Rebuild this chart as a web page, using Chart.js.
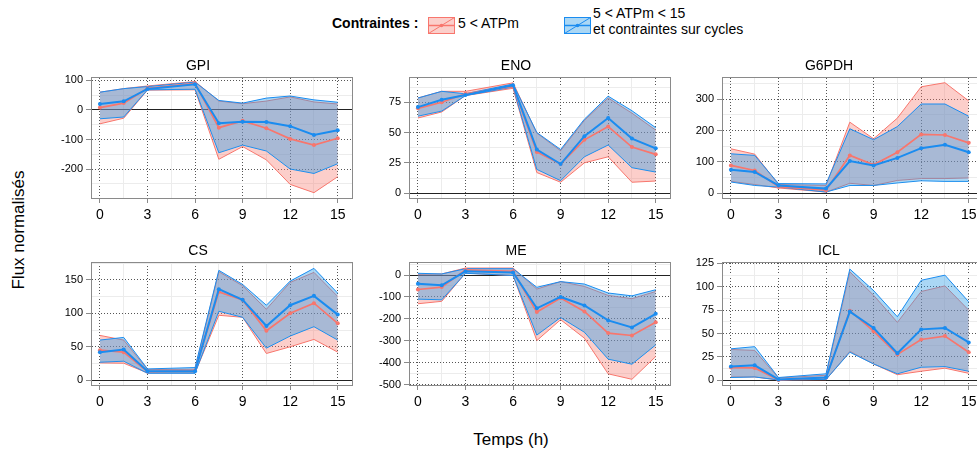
<!DOCTYPE html>
<html>
<head>
<meta charset="utf-8">
<script src="https://cdn.jsdelivr.net/npm/chart.js@4.4.1/dist/chart.umd.min.js"></script>
<style>
  body { margin: 0; width: 977px; height: 459px; overflow: hidden; background: #fff; position: relative;
         font-family: "Liberation Sans", Arial, sans-serif; color: #000; }
  canvas.panel { position: absolute; }
  .lab { position: absolute; white-space: nowrap; font-size: 14px; line-height: 16px; }
  .swatch { position: absolute; }
  #ylab { position: absolute; left: 19px; top: 230px; font-size: 17px; white-space: nowrap;
          transform: translate(-50%, -50%) rotate(-90deg); }
  #xlab { position: absolute; left: 511px; top: 440px; font-size: 17px; white-space: nowrap;
          transform: translate(-50%, -50%); }
</style>
</head>
<body>

<div class="lab" style="left:332px; top:15px; font-weight:bold;">Contraintes :</div>
<svg class="swatch" style="left:428px; top:17px;" width="27" height="17">
  <rect x="0.5" y="0.5" width="26" height="16" fill="#fbcfcb" stroke="#f8766d"/>
  <line x1="0.5" y1="16.5" x2="26.5" y2="0.5" stroke="#f8766d"/>
  <line x1="0" y1="8.5" x2="27" y2="8.5" stroke="#f8766d" stroke-width="1.5"/>
  <circle cx="13.5" cy="8.5" r="1.8" fill="#f8766d"/>
</svg>
<div class="lab" style="left:458px; top:15px;">5 &lt; ATPm</div>
<svg class="swatch" style="left:564px; top:17px;" width="27" height="17">
  <rect x="0.5" y="0.5" width="26" height="16" fill="#aad7f5" stroke="#1a8cf0"/>
  <line x1="0.5" y1="16.5" x2="26.5" y2="0.5" stroke="#1a8cf0"/>
  <line x1="0" y1="8.5" x2="27" y2="8.5" stroke="#1a8cf0" stroke-width="1.5"/>
  <circle cx="13.5" cy="8.5" r="1.8" fill="#1a8cf0"/>
</svg>
<div class="lab" style="left:593px; top:6px; line-height:15.5px;">5 &lt; ATPm &lt; 15<br>et contraintes sur cycles</div>

<div id="ylab">Flux normalisés</div>
<div id="xlab">Temps (h)</div>

<script>
// sampling times (h)
const hours = [0, 1.5, 3, 6, 7.5, 9, 10.5, 12, 13.5, 15];

// "5 < ATPm": median flux, lower and upper bound
// "5 < ATPm < 15 et contraintes sur cycles": same, suffix Cyc
const gpiAtp      = [8, 23, 73, 90, -60, -37, -62, -98, -119, -96];
const gpiAtpLow   = [-47, -28, 67, 68, -167, -124, -169, -252, -280, -226];
const gpiAtpHigh  = [60, 72, 81, 96, 30, 21, 30, 44, 27, 20];
const gpiCyc      = [20, 29, 71, 87, -45, -40, -41, -55, -85, -69];
const gpiCycLow   = [-30, -24, 68, 70, -145, -119, -139, -200, -215, -182];
const gpiCycHigh  = [60, 72, 79, 94, 32, 23, 40, 47, 34, 26];

const enoAtp      = [70, 75, 82, 88, 34, 24, 44, 55, 38, 32];
const enoAtpLow   = [62, 67, 80.5, 86.5, 17, 9, 25, 30, 9, 10];
const enoAtpHigh  = [78.5, 84, 84, 91, 49.5, 35, 60, 78.5, 66, 52];
const enoCyc      = [71, 77, 81, 89, 36, 24, 47, 62, 45, 37];
const enoCycLow   = [63.5, 67.7, 80.5, 87.5, 19.6, 10.3, 30, 39.7, 21, 17.4];
const enoCycHigh  = [78.5, 84, 82, 90, 50, 36, 61, 80, 68, 54];

const g6pdhAtp     = [89, 73, 21, 10, 121, 91, 131, 188, 186, 161];
const g6pdhAtpLow  = [38, 28, 17, 4, 32, 25, 41, 47, 47, 49];
const g6pdhAtpHigh = [142, 125, 28, 25, 227, 174, 240, 340, 353, 295];
const g6pdhCyc     = [75, 68, 25, 15, 103, 89, 113, 144, 155, 131];
const g6pdhCycLow  = [36, 25, 20, 4, 25, 25, 33, 40, 38, 38];
const g6pdhCycHigh = [126, 121, 31, 30, 206, 171, 213, 285, 285, 246];

const csAtp       = [45, 42, 13, 14.5, 132, 120, 74, 100, 115, 85];
const csAtpLow    = [26, 25.5, 11, 11, 97, 94, 40, 50, 61, 42];
const csAtpHigh   = [67, 60, 16, 16.5, 162, 141, 106, 146, 161, 125];
const csCyc       = [42, 46, 13.5, 13.5, 136, 120, 81, 112, 126, 98];
const csCycLow    = [27, 28.5, 10.5, 10.5, 103, 94, 48, 66, 80, 60];
const csCycHigh   = [60, 64, 17, 19, 164, 143, 112, 148, 167, 130];

const meAtp       = [-66, -55, 24, 17, -169, -105, -166, -265, -276, -215];
const meAtpLow    = [-131, -120, 9, -2, -299, -204, -288, -451, -476, -372];
const meAtpHigh   = [3, 5, 32, 32, -64, -30, -52, -93, -108, -75];
const meCyc       = [-40, -47, 17, 12, -152, -100, -139, -207, -239, -177];
const meCycLow    = [-110, -113, 8, -2, -274, -194, -261, -384, -407, -319];
const meCycHigh   = [8, 5, 29, 29, -56, -30, -41, -82, -95, -67];

const iclAtp      = [13.6, 13.3, 0.4, 3, 74.5, 52.6, 27.6, 43.7, 47.3, 30];
const iclAtpLow   = [3.6, 3.6, 0.4, 0.7, 31, 17.5, 6, 9.7, 13, 7.5];
const iclAtpHigh  = [33, 32, 2.5, 5.4, 116, 91, 62, 95, 101, 75];
const iclCyc      = [14.7, 16, 1, 3, 73.5, 56, 29, 54.5, 56, 40.5];
const iclCycLow   = [3, 3.6, 0.4, 1, 30, 17.5, 7, 14, 14.7, 9.7];
const iclCycHigh  = [33.7, 36, 3, 7, 119, 96, 68, 107, 112.5, 84];

// panel names and y axes (range, labelled step)
const names  = ['GPI', 'ENO', 'G6PDH', 'CS', 'ME', 'ICL'];
const yMin   = [-298, -4, -15, -7, -502, -5];
const yMax   = [108, 95, 368, 175, 55, 125.5];
const yStep  = [100, 25, 100, 50, 100, 25];
const series = [
  [gpiAtp, gpiAtpLow, gpiAtpHigh, gpiCyc, gpiCycLow, gpiCycHigh],
  [enoAtp, enoAtpLow, enoAtpHigh, enoCyc, enoCycLow, enoCycHigh],
  [g6pdhAtp, g6pdhAtpLow, g6pdhAtpHigh, g6pdhCyc, g6pdhCycLow, g6pdhCycHigh],
  [csAtp, csAtpLow, csAtpHigh, csCyc, csCycLow, csCycHigh],
  [meAtp, meAtpLow, meAtpHigh, meCyc, meCycLow, meCycHigh],
  [iclAtp, iclAtpLow, iclAtpHigh, iclCyc, iclCycLow, iclCycHigh]
];

// grid of panels: plot-area left edge per column, top / height per row
const colLeft = [92, 410, 723];
const rowTop = [78, 263];
const rowHeight = [120, 122];
const AXIS_W = 48, AXIS_H = 30, TITLE_H = 20, PAD_R = 12, PLOT_W = 260;

const RED = '#f8766d', BLUE = '#1a8cf0';
const RED_FILL = 'rgba(248,118,109,0.36)';
const BLUE_FILL = 'rgba(42,155,230,0.40)';

Chart.defaults.font.family = '"Liberation Sans", Arial, sans-serif';
Chart.defaults.color = '#000';

const isMajor = (v, step) => Math.abs(v / step - Math.round(v / step)) < 1e-6;
const pts = ys => ys.map((y, i) => ({ x: hours[i], y: y }));

// box around the panel
const framePlugin = {
  id: 'frame',
  afterDraw(chart) {
    const { ctx, chartArea: a } = chart;
    ctx.save();
    ctx.strokeStyle = '#8a8a8a';
    ctx.lineWidth = 1;
    ctx.strokeRect(a.left - 0.5, a.top - 0.5, a.right - a.left + 1, a.bottom - a.top + 1);
    ctx.restore();
  }
};

function makePanel(p) {
  const col = p % 3, row = Math.floor(p / 3);
  const [atp, atpLow, atpHigh, cyc, cycLow, cycHigh] = series[p];
  const major = yStep[p];

  const canvas = document.createElement('canvas');
  canvas.className = 'panel';
  canvas.width = AXIS_W + PLOT_W + PAD_R;
  canvas.height = TITLE_H + rowHeight[row] + AXIS_H;
  canvas.style.left = (colLeft[col] - AXIS_W) + 'px';
  canvas.style.top = (rowTop[row] - TITLE_H) + 'px';
  document.body.appendChild(canvas);

  const edge = (data, color, fill, bg) => ({
    data: pts(data), borderColor: color, borderWidth: 1, pointRadius: 0,
    fill: fill, backgroundColor: bg
  });
  const mid = (data, color, w) => ({
    data: pts(data), borderColor: color, borderWidth: w, pointRadius: 2,
    pointBackgroundColor: color, pointBorderWidth: 0, fill: false
  });

  new Chart(canvas, {
    type: 'line',
    data: {
      // first dataset is painted last (on top)
      datasets: [
        mid(cyc, BLUE, 2),
        mid(atp, RED, 1.7),
        edge(cycHigh, BLUE, '+1', BLUE_FILL),
        edge(cycLow, BLUE, false),
        edge(atpHigh, RED, '+1', RED_FILL),
        edge(atpLow, RED, false)
      ]
    },
    options: {
      responsive: false,
      animation: false,
      events: [],
      devicePixelRatio: 1,
      layout: { padding: { top: 0, left: 0, bottom: 0, right: PAD_R } },
      elements: { line: { tension: 0 } },
      plugins: {
        legend: { display: false },
        tooltip: { enabled: false },
        title: {
          display: true, text: names[p], color: '#000',
          font: { size: 14, weight: 'normal', lineHeight: 1.2 },
          padding: { top: 0, bottom: 3.2 }
        }
      },
      scales: {
        x: {
          type: 'linear', min: -0.5, max: 15.9,
          afterFit: s => { s.height = AXIS_H; },
          ticks: {
            stepSize: 1.5, includeBounds: false, autoSkip: false, maxRotation: 0,
            maxTicksLimit: 100, padding: 4, font: { size: 14 }, color: '#000',
            callback: v => isMajor(v, 3) ? String(v) : ''
          },
          grid: {
            tickLength: 5,
            color: c => (c.tick && isMajor(c.tick.value, 3)) ? '#555' : '#ececec',
            tickColor: c => (c.tick && isMajor(c.tick.value, 3)) ? '#8a8a8a' : 'rgba(0,0,0,0)'
          },
          border: {
            display: false,
            dash: c => (c.tick && isMajor(c.tick.value, 3)) ? [1, 2] : []
          }
        },
        y: {
          type: 'linear', min: yMin[p], max: yMax[p],
          afterFit: s => { s.width = AXIS_W; },
          ticks: {
            stepSize: major / 2, includeBounds: false, autoSkip: false,
            maxTicksLimit: 100, padding: 3, font: { size: 11 }, color: '#000',
            callback: v => isMajor(v, major) ? String(v) : ''
          },
          grid: {
            tickLength: 6,
            color: c => {
              if (!c.tick) return '#ececec';
              if (Math.abs(c.tick.value) < 1e-9) return '#222';
              return isMajor(c.tick.value, major) ? '#555' : '#ececec';
            },
            tickColor: c => (c.tick && isMajor(c.tick.value, major)) ? '#8a8a8a' : 'rgba(0,0,0,0)'
          },
          border: {
            display: false,
            dash: c => (c.tick && isMajor(c.tick.value, major) && Math.abs(c.tick.value) > 1e-9) ? [1, 2] : []
          }
        }
      }
    },
    plugins: [framePlugin]
  });
}

for (let p = 0; p < names.length; p++) makePanel(p);
</script>
</body>
</html>
